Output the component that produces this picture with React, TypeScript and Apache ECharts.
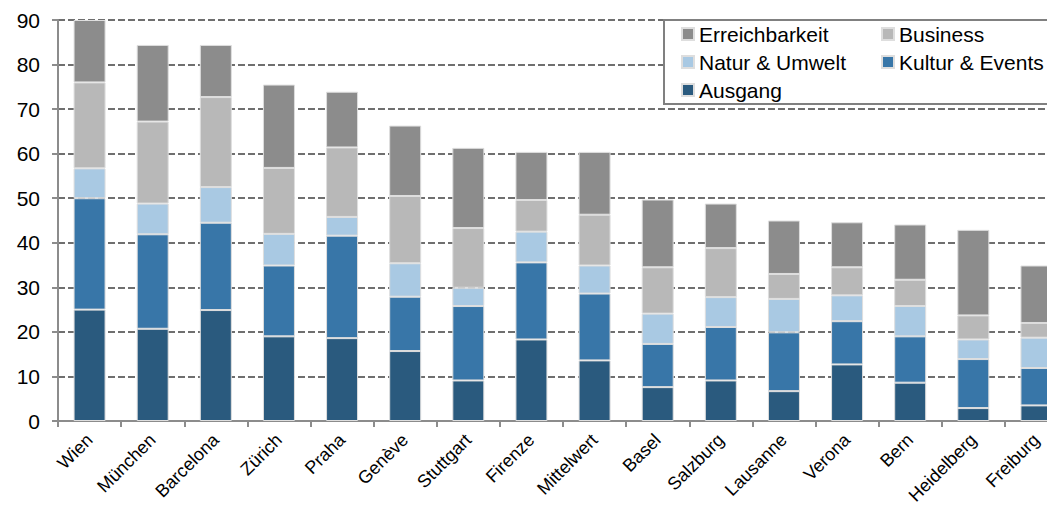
import React, { useEffect, useRef } from "react";
import * as echarts from "echarts";

const categories = ["Wien", "München", "Barcelona", "Zürich", "Praha", "Genève", "Stuttgart", "Firenze", "Mittelwert", "Basel", "Salzburg", "Lausanne", "Verona", "Bern", "Heidelberg", "Freiburg"];
const ausgang = [25.0, 20.7, 24.9, 19.0, 18.6, 15.7, 9.1, 18.3, 13.6, 7.6, 9.1, 6.7, 12.7, 8.6, 2.9, 3.5];
const kultur = [25.0, 21.2, 19.6, 15.9, 23.0, 12.2, 16.7, 17.3, 15.0, 9.7, 12.0, 13.2, 9.7, 10.4, 11.0, 8.4];
const natur = [6.7, 6.9, 8.0, 7.1, 4.2, 7.5, 4.1, 6.9, 6.3, 6.8, 6.7, 7.5, 5.8, 6.8, 4.4, 6.8];
const business = [19.3, 18.4, 20.2, 14.8, 15.6, 15.1, 13.4, 7.1, 11.4, 10.4, 11.0, 5.6, 6.3, 5.9, 5.4, 3.3];
const erreichbarkeit = [14.0, 17.2, 11.7, 18.7, 12.5, 15.8, 18.0, 10.8, 14.1, 15.2, 10.0, 12.0, 10.1, 12.4, 19.2, 12.9];
const yTicks = { min: 0, max: 90, interval: 10 };

const FONT = "'Liberation Sans', Arial, sans-serif";

export default function App() {
  const ref = useRef<HTMLDivElement>(null);
  useEffect(() => {
    if (!ref.current) return;
    const chart = echarts.init(ref.current, undefined, { renderer: "svg" });
    const mk = (name: string, data: number[], color: string) => ({
      name,
      type: "bar",
      stack: "total",
      data,
      barWidth: 32,
      itemStyle: { color, borderColor: "#dedede", borderWidth: 1 },
    });
    chart.setOption({
      animation: false,
      textStyle: { fontFamily: FONT },
      grid: { left: 58, right: -21, top: 20, bottom: 86, containLabel: false, outerBoundsMode: "none" },
      legend: {
        left: 664,
        top: 20,
        width: 420,
        orient: "horizontal",
        padding: [3, 10, 3, 17],
        itemGap: 6,
        itemWidth: 12,
        itemHeight: 12,
        icon: "rect",
        borderColor: "#808080",
        borderWidth: 2,
        backgroundColor: "#fff",
        data: ["Erreichbarkeit", "Business", "Natur & Umwelt", "Kultur & Events", "Ausgang"],
        textStyle: { fontFamily: FONT, fontSize: 21, color: "#000", width: 176, lineHeight: 22 },
      },
      xAxis: {
        type: "category",
        data: categories,
        axisLine: { lineStyle: { color: "#8c8c8c", width: 2 } },
        axisTick: { show: true, length: 6, lineStyle: { color: "#8c8c8c", width: 2 } },
        axisLabel: { rotate: 45, fontSize: 18, color: "#000", margin: 16, interval: 0, fontFamily: FONT },
      },
      yAxis: {
        type: "value",
        min: yTicks.min,
        max: yTicks.max,
        interval: yTicks.interval,
        axisLine: { show: true, lineStyle: { color: "#8c8c8c", width: 2 } },
        axisTick: { show: true, length: 6, lineStyle: { color: "#8c8c8c", width: 2 } },
        axisLabel: { fontSize: 21, color: "#000", margin: 18, fontFamily: FONT },
        splitLine: { show: true, lineStyle: { color: "#404040", width: 1.6, type: [7, 3] } },
      },
      series: [
        mk("Ausgang", ausgang, "#2a5a7e"),
        mk("Kultur & Events", kultur, "#3876a8"),
        mk("Natur & Umwelt", natur, "#a9c9e3"),
        mk("Business", business, "#b8b8b8"),
        mk("Erreichbarkeit", erreichbarkeit, "#8c8c8c"),
      ],
    });
    return () => chart.dispose();
  }, []);
  return <div ref={ref} style={{ position: "fixed", left: 0, top: 0, width: 1047, height: 507, background: "#fff" }} />;
}
